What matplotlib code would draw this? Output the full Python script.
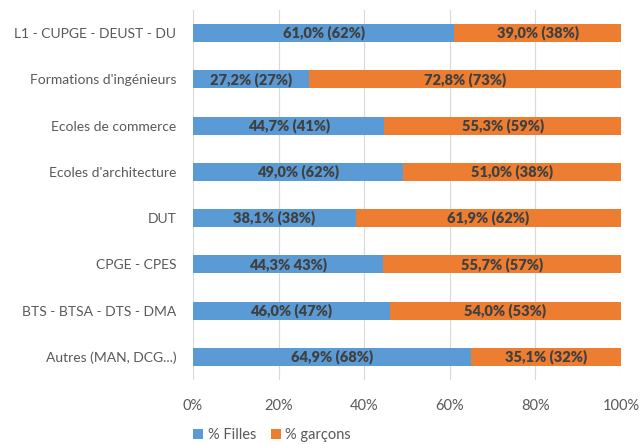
import matplotlib
matplotlib.use("Agg")
import matplotlib.pyplot as plt
from matplotlib.ticker import PercentFormatter

categories = [
    "L1 - CUPGE - DEUST - DU",
    "Formations d'ingénieurs",
    "Ecoles de commerce",
    "Ecoles d'architecture",
    "DUT",
    "CPGE - CPES",
    "BTS - BTSA - DTS - DMA",
    "Autres (MAN, DCG...)",
]
filles = [61.0, 27.2, 44.7, 49.0, 38.1, 44.3, 46.0, 64.9]
garcons = [39.0, 72.8, 55.3, 51.0, 61.9, 55.7, 54.0, 35.1]
filles_labels = ["61,0% (62%)", "27,2% (27%)", "44,7% (41%)", "49,0% (62%)",
                 "38,1% (38%)", "44,3% 43%)", "46,0% (47%)", "64,9% (68%)"]
garcons_labels = ["39,0% (38%)", "72,8% (73%)", "55,3% (59%)", "51,0% (38%)",
                  "61,9% (62%)", "55,7% (57%)", "54,0% (53%)", "35,1% (32%)"]

BLUE = "#5B9BD5"
ORANGE = "#ED7D31"
plt.rcParams["font.family"] = ["Lato", "DejaVu Sans"]

fig = plt.figure(figsize=(6.41, 4.44), dpi=100)
ax = fig.add_axes([193 / 641, 1 - 380 / 444, 428 / 641, 370 / 444])

pos = list(range(len(categories)))
h = 0.39
b1 = ax.barh(pos, filles, height=h, color=BLUE, label="% Filles")
b2 = ax.barh(pos, garcons, left=filles, height=h, color=ORANGE, label="% garçons")

for y, f, g, lf, lg in zip(pos, filles, garcons, filles_labels, garcons_labels):
    ax.text(f / 2, y, lf, ha="center", va="center", fontsize=10.5,
            fontweight="heavy", color="#404040")
    ax.text(f + g / 2, y, lg, ha="center", va="center", fontsize=10.5,
            fontweight="heavy", color="#404040")

ax.set_xlim(0, 100)
ax.set_ylim(len(categories) - 0.5, -0.5)
ax.set_yticks(pos)
ax.set_yticklabels(categories, fontsize=10, color="#595959")
ax.set_xticks([0, 20, 40, 60, 80, 100])
ax.xaxis.set_major_formatter(PercentFormatter(decimals=0))
ax.tick_params(axis="x", labelsize=10.5, labelcolor="#595959", length=0, pad=14)
ax.tick_params(axis="y", length=0, pad=12)
ax.grid(axis="x", color="#D9D9D9", linewidth=0.8)
ax.set_axisbelow(True)
for s in ax.spines.values():
    s.set_visible(False)

fig.legend(handles=[b1, b2], loc="center", bbox_to_anchor=(272 / 641, 1 - 435 / 444),
           ncol=2, frameon=False, fontsize=10.5, handlelength=0.7, handleheight=0.7,
           handletextpad=0.3, columnspacing=1.0, labelcolor="#595959",
           borderpad=0.1)

fig.savefig("out.png", dpi=100)
